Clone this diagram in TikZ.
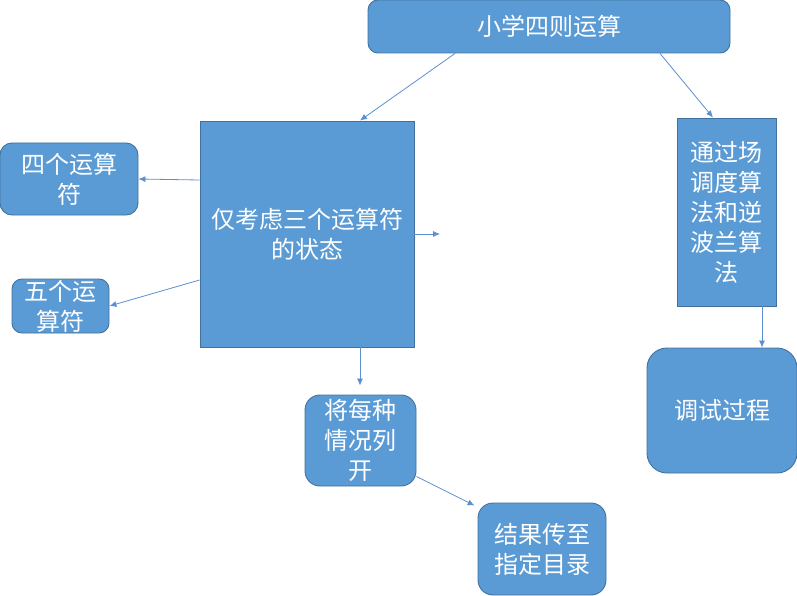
\documentclass[tikz,border=0pt]{standalone}
\usepackage{fontspec}
\newfontfamily\cjk{Noto Sans CJK SC}
\usetikzlibrary{arrows.meta}
\definecolor{boxfill}{HTML}{5B9BD5}
\definecolor{boxline}{HTML}{41719C}
\definecolor{linkcol}{HTML}{5B8FD0}
\begin{document}
\begin{tikzpicture}[x=1pt,y=-1pt,
  box/.style={draw=boxline,fill=boxfill,line width=0.9pt,text=white,
    font=\cjk\fontsize{24}{30}\selectfont,align=center,inner sep=0pt},
  rbox/.style={box,rounded corners=#1},
  link/.style={draw=linkcol,line width=0.8pt,-{Latex[length=7pt,width=6pt]}}]
\useasboundingbox (0,0) rectangle (797,596);
\node[rbox=10pt,minimum width=362pt,minimum height=53pt] (top) at (549,26.5) {小学四则运算};
\node[box,minimum width=214pt,minimum height=226pt] (big) at (307,234) {仅考虑三个运算符\\的状态};
\node[rbox=12pt,minimum width=138pt,minimum height=72pt] (four) at (69,179) {四个运算\\符};
\node[rbox=10pt,minimum width=97pt,minimum height=54pt] (five) at (60.5,306) {五个运\\算符};
\node[box,minimum width=99pt,minimum height=188pt] (algo) at (726.5,212) {通过场\\调度算\\法和逆\\波兰算\\法};
\node[rbox=20pt,minimum width=150pt,minimum height=125pt] (debug) at (722,410.5) {调试过程};
\node[rbox=15pt,minimum width=111pt,minimum height=91pt] (each) at (360.5,440.5) {将每种\\情况列\\开};
\node[rbox=15pt,minimum width=128pt,minimum height=92pt] (result) at (542,549) {结果传至\\指定目录};
\coordinate (free) at (440,234);
\draw[link] ([xshift=-94pt]top.south) -- ([xshift=53pt]big.north);
\draw[link] ([xshift=111pt]top.south) -- ([xshift=-13.5pt]algo.north);
\draw[link] ([yshift=54pt]big.west) -- (four.east);
\draw[link] ([yshift=-46pt]big.west) -- (five.east);
\draw[link] (big.east) -- (free);
\draw[link,shorten >=9pt] ([xshift=53pt]big.south) -- ([xshift=-0.5pt]each.north);
\draw[link] ([yshift=10pt]each.south east) -- ([xshift=-3pt,yshift=-3pt]result.north west);
\draw[link] ([xshift=35.5pt]algo.south) -- ([xshift=40pt]debug.north);
\end{tikzpicture}
\end{document}
